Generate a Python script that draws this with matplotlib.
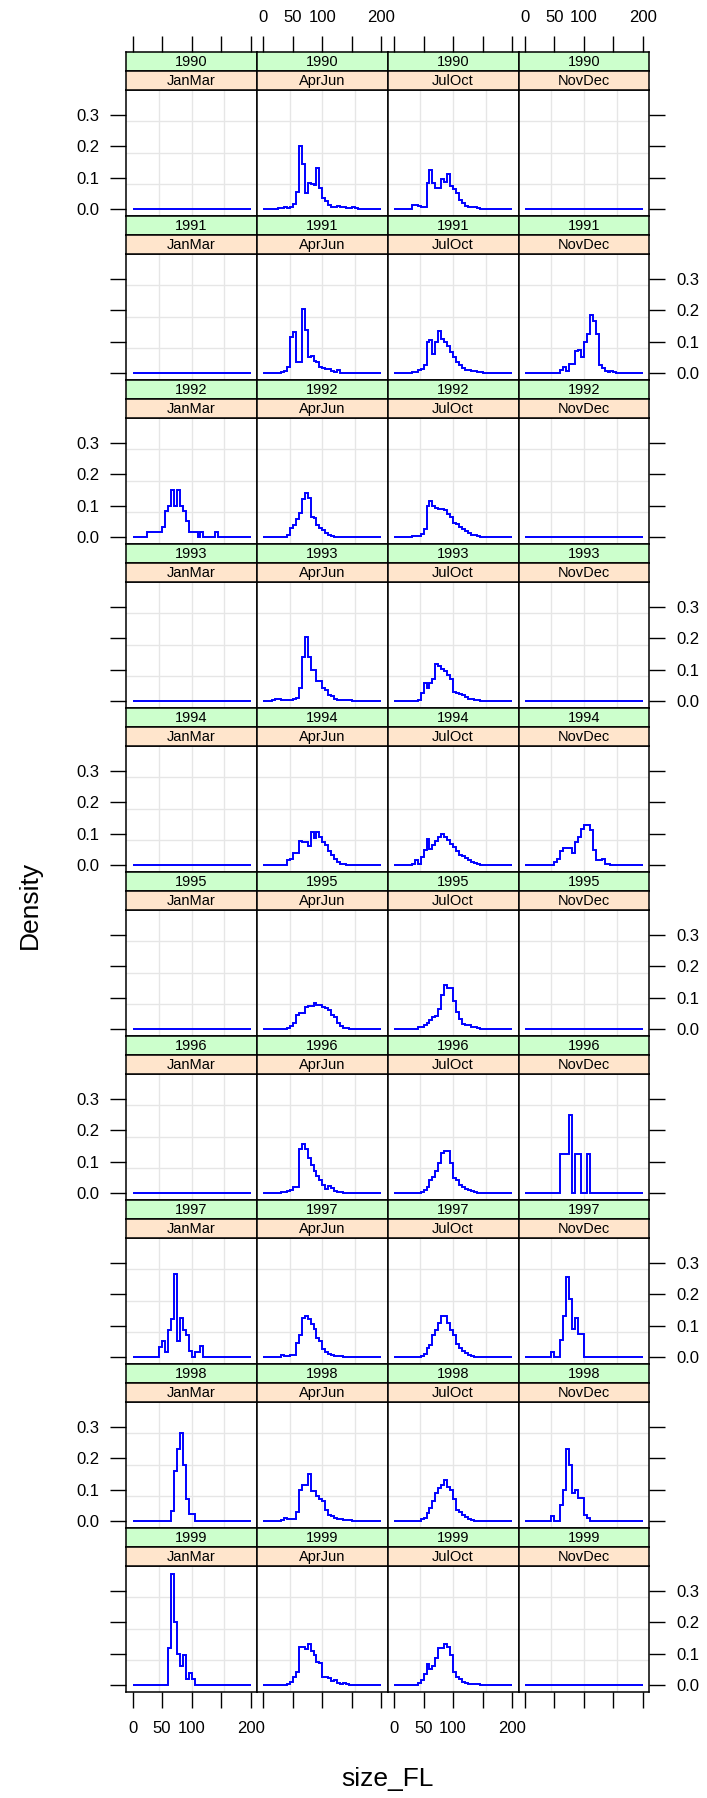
import numpy as np
import matplotlib.pyplot as plt

plt.rcParams['font.family'] = ['Liberation Sans', 'DejaVu Sans']

# size classes (cm) and panel conditioning
years = list(range(1990, 2000))
seasons = ['JanMar', 'AprJun', 'JulOct', 'NovDec']
bin_width = 5
size_max = 200
x_ticks = [0, 50, 100, 150, 200]
x_tick_labels = ['0', '50', '100', '', '200']
y_ticks = [0.0, 0.1, 0.2, 0.3]
y_tick_labels = ['0.0', '0.1', '0.2', '0.3']

# per year, per season: (lower bound of first size class, densities) or None
d1990 = [None,
         (25, [0.003, 0.002, 0.005, 0.004, 0.008, 0.015, 0.055, 0.2, 0.145, 0.05, 0.083, 0.08, 0.078, 0.13,
               0.067, 0.035, 0.025, 0.012, 0.007, 0.005, 0.01, 0.005, 0.008, 0.003, 0.003, 0.005, 0.002]),
         (30, [0.013, 0.013, 0.009, 0.006, 0.008, 0.084, 0.125, 0.084, 0.066, 0.066, 0.096, 0.087, 0.112,
               0.075, 0.064, 0.05, 0.029, 0.018, 0.01, 0.008, 0.006, 0.005, 0.003]),
         None]
d1991 = [None,
         (30, [0.004, 0.005, 0.02, 0.116, 0.132, 0.035, 0.035, 0.205, 0.137, 0.05, 0.055, 0.038, 0.035,
               0.02, 0.016, 0.014, 0.012, 0.008, 0.003, 0.01]),
         (30, [0.003, 0.003, 0.01, 0.012, 0.025, 0.1, 0.105, 0.06, 0.1, 0.135, 0.11, 0.1, 0.085, 0.068,
               0.05, 0.035, 0.025, 0.015, 0.01, 0.009, 0.006, 0.005, 0.003, 0.002]),
         (60, [0.01, 0.02, 0.005, 0.028, 0.028, 0.07, 0.075, 0.05, 0.1, 0.125, 0.185, 0.165, 0.125, 0.025,
               0.015, 0.008, 0.003, 0.005, 0.002])]
d1992 = [(25, [0.017, 0.017, 0.017, 0.017, 0.017, 0.033, 0.083, 0.1, 0.15, 0.1, 0.15, 0.1, 0.083, 0.05,
               0.017, 0.017, 0.017, 0.0, 0.017, 0.0, 0.0, 0.0, 0.0, 0.017]),
         (40, [0.005, 0.03, 0.037, 0.057, 0.077, 0.12, 0.14, 0.125, 0.065, 0.062, 0.038, 0.03, 0.022,
               0.013, 0.005, 0.002]),
         (30, [0.002, 0.003, 0.003, 0.01, 0.025, 0.1, 0.115, 0.1, 0.092, 0.09, 0.09, 0.085, 0.075, 0.065,
               0.045, 0.04, 0.033, 0.025, 0.018, 0.012, 0.008, 0.005, 0.003]),
         None]
d1993 = [None,
         (15, [0.003, 0.005, 0.005, 0.003, 0.002, 0.003, 0.004, 0.005, 0.01, 0.04, 0.14, 0.205, 0.14, 0.1,
               0.1, 0.065, 0.065, 0.04, 0.035, 0.02, 0.015, 0.008, 0.003, 0.003, 0.004, 0.002, 0.002]),
         (40, [0.003, 0.025, 0.057, 0.04, 0.057, 0.07, 0.118, 0.112, 0.102, 0.095, 0.083, 0.07, 0.03,
               0.027, 0.022, 0.018, 0.012, 0.008, 0.005, 0.003, 0.002]),
         None]
d1994 = [None,
         (40, [0.015, 0.02, 0.037, 0.037, 0.077, 0.075, 0.072, 0.06, 0.105, 0.085, 0.105, 0.09, 0.075,
               0.063, 0.045, 0.032, 0.02, 0.01, 0.003, 0.002]),
         (30, [0.003, 0.015, 0.003, 0.027, 0.048, 0.083, 0.05, 0.065, 0.077, 0.09, 0.1, 0.09, 0.08, 0.068,
               0.058, 0.045, 0.033, 0.028, 0.022, 0.016, 0.01, 0.005, 0.003]),
         (50, [0.01, 0.02, 0.045, 0.055, 0.055, 0.055, 0.037, 0.072, 0.09, 0.115, 0.128, 0.128, 0.113,
               0.048, 0.015, 0.015, 0.02, 0.003, 0.002])]
d1995 = [None,
         (40, [0.004, 0.01, 0.02, 0.045, 0.05, 0.05, 0.07, 0.073, 0.073, 0.082, 0.076, 0.076, 0.07, 0.068,
               0.06, 0.045, 0.038, 0.018, 0.01, 0.004, 0.002]),
         (40, [0.007, 0.008, 0.013, 0.02, 0.028, 0.038, 0.042, 0.065, 0.11, 0.14, 0.132, 0.132, 0.09,
               0.055, 0.033, 0.015, 0.012, 0.012, 0.008, 0.006, 0.003]),
         None]
d1996 = [None,
         (30, [0.003, 0.003, 0.005, 0.01, 0.018, 0.02, 0.14, 0.155, 0.14, 0.113, 0.09, 0.07, 0.055, 0.04,
               0.025, 0.012, 0.022, 0.015, 0.006, 0.003, 0.002]),
         (45, [0.003, 0.01, 0.02, 0.043, 0.052, 0.07, 0.095, 0.128, 0.133, 0.133, 0.095, 0.047, 0.04,
               0.025, 0.018, 0.012, 0.009, 0.005, 0.002]),
         (60, [0.125, 0.125, 0.125, 0.25, 0.0, 0.125, 0.125, 0.0, 0.0, 0.125])]
d1997 = [(45, [0.033, 0.05, 0.017, 0.087, 0.12, 0.264, 0.05, 0.124, 0.087, 0.07, 0.018, 0.0, 0.017,
               0.017, 0.035]),
         (30, [0.005, 0.002, 0.004, 0.006, 0.005, 0.045, 0.07, 0.125, 0.13, 0.12, 0.105, 0.09, 0.06,
               0.05, 0.025, 0.015, 0.01, 0.006, 0.004, 0.003, 0.002]),
         (45, [0.004, 0.01, 0.03, 0.038, 0.07, 0.087, 0.11, 0.13, 0.13, 0.11, 0.087, 0.07, 0.042, 0.028,
               0.02, 0.012, 0.006, 0.003]),
         (45, [0.017, 0.0, 0.0, 0.053, 0.13, 0.255, 0.185, 0.09, 0.125, 0.072, 0.072])]
d1998 = [(65, [0.033, 0.16, 0.23, 0.28, 0.18, 0.07, 0.023, 0.023]),
         (30, [0.003, 0.01, 0.008, 0.006, 0.008, 0.03, 0.1, 0.115, 0.115, 0.15, 0.095, 0.095, 0.08, 0.07,
               0.065, 0.035, 0.02, 0.015, 0.01, 0.006, 0.006, 0.003, 0.003, 0.002]),
         (45, [0.005, 0.01, 0.025, 0.04, 0.065, 0.09, 0.105, 0.115, 0.13, 0.11, 0.1, 0.07, 0.035, 0.028,
               0.02, 0.012, 0.006, 0.003]),
         (45, [0.017, 0.0, 0.0, 0.05, 0.1, 0.23, 0.18, 0.09, 0.1, 0.075, 0.075, 0.02, 0.01])]
d1999 = [(60, [0.118, 0.355, 0.2, 0.1, 0.06, 0.097, 0.02, 0.038, 0.02]),
         (40, [0.004, 0.01, 0.025, 0.04, 0.12, 0.12, 0.115, 0.13, 0.11, 0.095, 0.072, 0.07, 0.025, 0.025,
               0.022, 0.012, 0.015, 0.007, 0.004, 0.008, 0.002]),
         (40, [0.005, 0.015, 0.035, 0.068, 0.05, 0.06, 0.085, 0.118, 0.118, 0.13, 0.12, 0.095, 0.04,
               0.025, 0.02, 0.01, 0.006, 0.004, 0.003, 0.002, 0.002]),
         None]
by_year = [d1990, d1991, d1992, d1993, d1994, d1995, d1996, d1997, d1998, d1999]

# layout in pixels
W, H = 707, 1798
col_x = [126.2, 257.0, 387.7, 518.5]
col_w = 130.8
row_top = 52.0
row_pitch = 164.0
strip_h = 18.9
panel_h = row_pitch - 2 * strip_h
xlim = (-10.7, 210.7)
ylim = (-0.0223, 0.3805)
tick_len = 11.2
tick_fs = 12
strip_fs = 10.5
title_fs = 19

fig = plt.figure(figsize=(W / 100, H / 100), dpi=100)


def fbox(x, y, w, h):
    return [x / W, 1 - (y + h) / H, w / W, h / H]


def style_box(a):
    for s in a.spines.values():
        s.set_linewidth(1.1)
        s.set_color('black')


edges = np.arange(0, size_max + bin_width, bin_width)
gx = [xlim[0] + (xlim[1] - xlim[0]) * f for f in (0.25, 0.5, 0.75)]
gy = [ylim[0] + (ylim[1] - ylim[0]) * f for f in (0.25, 0.5, 0.75)]

for r, year in enumerate(years):
    for c, season in enumerate(seasons):
        top = row_top + r * row_pitch
        x0 = col_x[c]

        ax = fig.add_axes(fbox(x0, top + 2 * strip_h, col_w, panel_h))
        ax.set_xlim(xlim)
        ax.set_ylim(ylim)
        for v in gx:
            ax.axvline(v, color='#e6e6e6', lw=1.0, zorder=0)
        for v in gy:
            ax.axhline(v, color='#e6e6e6', lw=1.0, zorder=0)

        vals = np.zeros(len(edges) - 1)
        entry = by_year[r][c]
        if entry is not None:
            start, dens = entry
            i = start // bin_width
            vals[i:i + len(dens)] = dens
        ax.stairs(vals, edges, baseline=None, color='#0000ff', lw=1.4, zorder=3)

        ax.set_xticks(x_ticks)
        ax.set_xticklabels(x_tick_labels)
        ax.set_yticks(y_ticks)
        ax.set_yticklabels(y_tick_labels)
        ax.tick_params(axis='y', direction='out', length=tick_len, width=1.0, pad=8, labelsize=tick_fs,
                       left=(c == 0), right=(c == 3),
                       labelleft=(c == 0 and r % 2 == 0), labelright=(c == 3 and r % 2 == 1))
        ax.tick_params(axis='x', direction='out', length=tick_len, width=1.0, pad=10, labelsize=tick_fs,
                       top=False, labeltop=False,
                       bottom=(r == len(years) - 1), labelbottom=(r == len(years) - 1 and c % 2 == 0))
        style_box(ax)

        for k, (label, color) in enumerate([(str(year), '#ccffcc'), (season, '#ffe5cc')]):
            sa = fig.add_axes(fbox(x0, top + k * strip_h, col_w, strip_h))
            sa.set_facecolor(color)
            sa.set_xlim(xlim)
            sa.set_ylim(0, 1)
            sa.set_yticks([])
            sa.text(0.5, 0.45, label, transform=sa.transAxes, ha='center', va='center', fontsize=strip_fs)
            if r == 0 and k == 0:
                sa.set_xticks(x_ticks)
                sa.set_xticklabels(x_tick_labels)
                sa.tick_params(axis='x', direction='out', length=tick_len, width=1.0, pad=8,
                               labelsize=tick_fs, top=True, bottom=False, labelbottom=False,
                               labeltop=(c % 2 == 1))
            else:
                sa.set_xticks([])
            style_box(sa)

fig.text(30 / W, 1 - 905 / H, 'Density', rotation=90, ha='center', va='center', fontsize=title_fs)
fig.text(387 / W, 1 - 1779 / H, 'size_FL', ha='center', va='center', fontsize=title_fs)

fig.savefig('out.png', dpi=100, facecolor='white')
